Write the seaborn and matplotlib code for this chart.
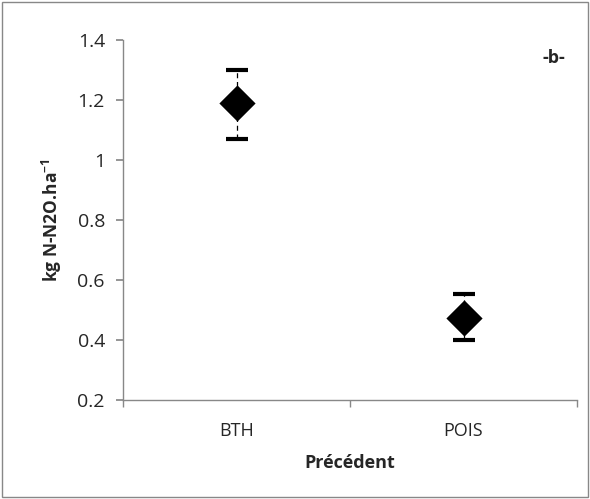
import matplotlib
matplotlib.use("Agg")
import matplotlib.pyplot as plt
import seaborn as sns
import pandas as pd
from matplotlib.patches import Rectangle

categories = ["BTH", "POIS"]
means = [1.19, 0.473]
lower = [1.07, 0.40]
upper = [1.30, 0.553]

df = pd.DataFrame({"Précédent": categories, "val": means, "lo": lower, "hi": upper})

sns.set_theme(style="white")
plt.rcParams["font.family"] = ["Open Sans", "DejaVu Sans"]
plt.rcParams["mathtext.fontset"] = "custom"
plt.rcParams["mathtext.rm"] = "Open Sans:bold"
plt.rcParams["mathtext.bf"] = "Open Sans:bold"
plt.rcParams["mathtext.default"] = "bf"

fig = plt.figure(figsize=(5.9, 4.99), dpi=100)
ax = fig.add_axes([123/590, 1 - 400/499, (577-123)/590, 360/499])

xpos = list(range(len(categories)))
eb = ax.errorbar(xpos, df["val"],
                 yerr=[df["val"] - df["lo"], df["hi"] - df["val"]],
                 fmt="none", ecolor="black", elinewidth=0.9, capsize=8,
                 capthick=3, zorder=2)
for lc in eb[2]:
    lc.set_linestyle((0, (4, 3)))
sns.scatterplot(x=xpos, y=df["val"], marker="D", s=340, color="black",
                edgecolor="black", linewidth=0, ax=ax, zorder=3)

ax.set_xlim(-0.5, 1.5)
ax.set_ylim(0.2, 1.4)
ax.set_yticks([0.2, 0.4, 0.6, 0.8, 1.0, 1.2, 1.4])
ax.set_yticklabels(["0.2", "0.4", "0.6", "0.8", "1", "1.2", "1.4"])
ax.set_xticks(xpos)
ax.set_xticklabels(categories)
ax.set_xticks([-0.5, 0.5, 1.5], minor=True)
ax.tick_params(axis="x", which="major", length=0, pad=16, labelsize=13)
ax.tick_params(axis="x", which="minor", length=5, color="#888888", direction="out", bottom=True)
ax.tick_params(axis="y", length=5, color="#888888", direction="out", left=True, labelsize=14, pad=8)
ax.set_xlabel("Précédent", fontweight="bold", fontsize=13, labelpad=10)
ax.set_ylabel("kg N-N2O.ha$^{-1}$", fontweight="bold", fontsize=12.5, labelpad=10)

for s in ["top", "right"]:
    ax.spines[s].set_visible(False)
for s in ["left", "bottom"]:
    ax.spines[s].set_color("#888888")
    ax.spines[s].set_linewidth(1)

ax.text(0.975, 0.975, "-b-", transform=ax.transAxes, ha="right", va="top",
        fontweight="bold", fontsize=13)

fig.patches.append(Rectangle((2/590, 2/499), 586/590, 495/499, transform=fig.transFigure,
                             fill=False, edgecolor="#888888", linewidth=1))

fig.savefig("out.png", dpi=100)
